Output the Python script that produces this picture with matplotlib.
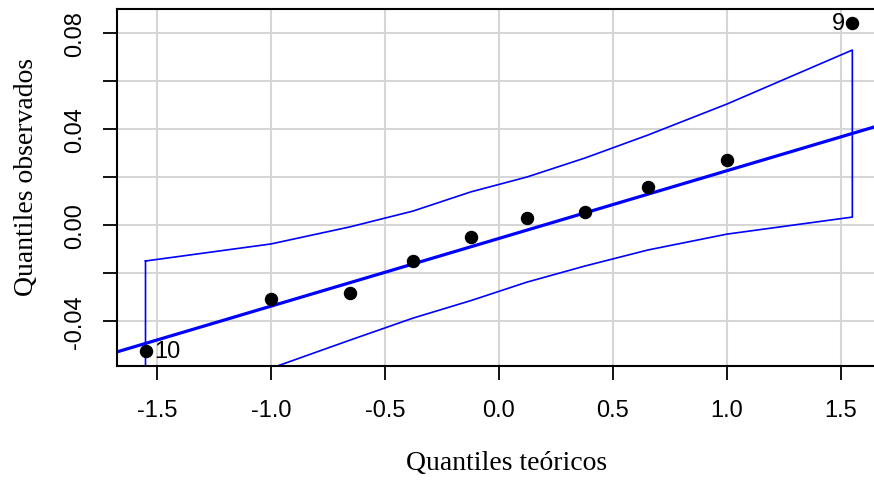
import numpy as np
import matplotlib
matplotlib.use("Agg")
import matplotlib.pyplot as plt

# theoretical quantiles and observed residual quantiles
teoricos = [-1.55, -1.00, -0.654, -0.377, -0.123, 0.123, 0.377, 0.654, 1.00, 1.55]
observados = [-0.0525, -0.0308, -0.0283, -0.0150, -0.0050, 0.0029, 0.0054, 0.0158, 0.0271, 0.0842]

# confidence envelope
env_sup = [-0.0150, -0.0079, -0.0008, 0.0058, 0.0138, 0.0200, 0.0279, 0.0375, 0.0504, 0.0729]
env_inf = [-0.0842, -0.0597, -0.0480, -0.0388, -0.0315, -0.0238, -0.0171, -0.0104, -0.0038, 0.0033]

# reference line
intercepto = -0.0056
pendiente = 0.02822

# labelled points
etiquetas = {0: "10", 9: "9"}

fig = plt.figure(figsize=(8.74, 4.85), dpi=100)
ax = fig.add_axes([117/874, 1 - 367/485, 1 - 117/874, (367 - 10)/485])

ax.set_xlim(-1.675, 1.645)
ax.set_ylim(-0.05875, 0.09)

ax.set_xticks([-1.5, -1.0, -0.5, 0.0, 0.5, 1.0, 1.5])
ax.set_xticklabels(["-1.5", "-1.0", "-0.5", "0.0", "0.5", "1.0", "1.5"])
yt = [-0.04, -0.02, 0.0, 0.02, 0.04, 0.06, 0.08]
ax.set_yticks(yt)
ax.set_yticklabels(["-0.04", "", "0.00", "", "0.04", "", "0.08"],
                   rotation=90, va="center")

ax.grid(True, color="#d6d6d6", lw=1.5)
ax.set_axisbelow(True)

for s in ["left", "top", "bottom"]:
    ax.spines[s].set_linewidth(1.5)
ax.spines["right"].set_visible(False)

ax.tick_params(axis="both", length=10, width=1.3, labelsize=17)
ax.tick_params(axis="x", pad=14)
ax.tick_params(axis="y", pad=12)
for lab in ax.get_xticklabels() + ax.get_yticklabels():
    lab.set_family("Liberation Sans")

# envelope as closed outline
xs = np.array(teoricos)
poly_x = np.concatenate([xs, xs[::-1], xs[:1]])
poly_y = np.concatenate([env_sup, env_inf[::-1], env_sup[:1]])
ax.plot(poly_x, poly_y, color="blue", lw=1.2)

xl = np.array(ax.get_xlim())
ax.plot(xl, intercepto + pendiente * xl, color="blue", lw=2.3)

ax.scatter(teoricos, observados, s=75, color="black", zorder=5)

for i, txt in etiquetas.items():
    if teoricos[i] < 0:
        ax.annotate(txt, (teoricos[i], observados[i]), xytext=(6, 0),
                    textcoords="offset points", ha="left", va="center",
                    fontsize=17, family="Liberation Sans")
    else:
        ax.annotate(txt, (teoricos[i], observados[i]), xytext=(-5, 0),
                    textcoords="offset points", ha="right", va="center",
                    fontsize=17, family="Liberation Sans")

ax.set_xlabel("Quantiles teóricos", family="Liberation Serif", fontsize=20, va="center")
ax.set_ylabel("Quantiles observados", family="Liberation Serif", fontsize=20, va="center")
ax.xaxis.set_label_coords((507 - 117)/757, (367 - 464)/357)
ax.yaxis.set_label_coords((26 - 117)/757, (367 - 177)/357)

fig.savefig("out.png", dpi=100)
